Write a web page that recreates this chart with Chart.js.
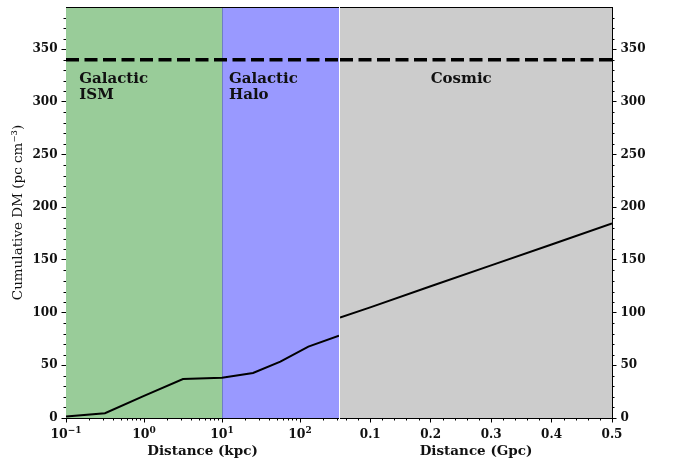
<!DOCTYPE html>
<html>
<head>
<meta charset="utf-8">
<script src="https://cdn.jsdelivr.net/npm/chart.js@4.4.1/dist/chart.umd.min.js"></script>
<style>
  html, body { margin: 0; padding: 0; background: #fff; }
  #wrap { position: relative; width: 673px; height: 462px; }
  .panel { position: absolute; top: 0; height: 462px; }
  #left { left: 0; width: 339px; }
  #right { left: 340px; width: 333px; }
</style>
</head>
<body>
<div id="wrap">
  <div class="panel" id="left"><canvas id="galChart" width="339" height="462"></canvas></div>
  <div class="panel" id="right"><canvas id="cosChart" width="333" height="462"></canvas></div>
</div>
<script>
// Galactic part (kpc, log axis)
const galDist = [0.1, 0.316, 1, 3.16, 10, 25, 56, 128, 316.2];
const galDM = [1.5, 4.5, 21, 37, 38.3, 42.7, 53.5, 67.7, 78];

// Cosmic part (Gpc, linear axis)
const cosDist = [0.05, 0.1, 0.2, 0.3, 0.4, 0.5];
const cosDM = [95.3, 105, 125, 144.8, 164.6, 184.7];

const dmLimit = 340;

const galTicks = [0.1, 1, 10, 100];
const galTickExp = ['\u22121', '0', '1', '2'];
const cosTicks = [0.1, 0.2, 0.3, 0.4, 0.5];
const cosTickLabels = ['0.1', '0.2', '0.3', '0.4', '0.5'];
const dmTicks = [0, 50, 100, 150, 200, 250, 300, 350];

const ismRange = [0.1, 10];
const haloRange = [10, 316.2];
const cosmicRange = [0.05, 0.5];

const FONT = 'DejaVu Serif';
const tickFont = { family: FONT, size: 12, weight: 'bold' };

function pairs(xs, ys) {
    return xs.map((x, i) => ({ x: x, y: ys[i] }));
}

// shaded regions, top spine, minor ticks, power-of-ten labels, region names
const decorPlugin = {
    id: 'decor',
    beforeDatasetsDraw(chart, args, opts) {
        const ctx = chart.ctx;
        const a = chart.chartArea;
        const xs = chart.scales.x;
        ctx.save();
        opts.spans.forEach(s => {
            const x0 = xs.getPixelForValue(s.range[0]);
            const x1 = xs.getPixelForValue(s.range[1]);
            ctx.fillStyle = s.color;
            ctx.fillRect(x0, a.top, x1 - x0, a.bottom - a.top);
            if (s.edge) {
                ctx.strokeStyle = s.edge;
                ctx.lineWidth = 1;
                ctx.beginPath();
                ctx.moveTo(Math.round(x0) + 0.5, a.top);
                ctx.lineTo(Math.round(x0) + 0.5, a.bottom);
                ctx.stroke();
            }
        });
        ctx.restore();
    },
    afterDraw(chart, args, opts) {
        const ctx = chart.ctx;
        const a = chart.chartArea;
        const xs = chart.scales.x;
        const ys = chart.scales.y;
        ctx.save();
        ctx.strokeStyle = '#000';
        ctx.lineWidth = 1;
        ctx.beginPath();
        ctx.moveTo(a.left, a.top + 0.5);
        ctx.lineTo(a.right, a.top + 0.5);
        ctx.stroke();

        // minor ticks
        ctx.beginPath();
        opts.xMinor.forEach(v => {
            if (v < xs.min || v > xs.max) return;
            const px = Math.round(xs.getPixelForValue(v)) + 0.5;
            ctx.moveTo(px, a.bottom);
            ctx.lineTo(px, a.bottom + 2.5);
        });
        for (let v = 10; v < 390; v += 10) {
            if (v % 50 === 0) continue;
            const py = Math.round(ys.getPixelForValue(v)) + 0.5;
            if (opts.ySide === 'left') {
                ctx.moveTo(a.left, py);
                ctx.lineTo(a.left - 2.5, py);
            } else {
                ctx.moveTo(a.right, py);
                ctx.lineTo(a.right + 2.5, py);
            }
        }
        ctx.stroke();

        // 10^n tick labels
        if (opts.powTicks) {
            ctx.fillStyle = '#111';
            ctx.textBaseline = 'alphabetic';
            ctx.textAlign = 'left';
            opts.powTicks.forEach((v, i) => {
                const px = xs.getPixelForValue(v);
                ctx.font = 'bold 12.5px "' + FONT + '"';
                const wb = ctx.measureText('10').width;
                ctx.font = 'bold 9px "' + FONT + '"';
                const we = ctx.measureText(opts.powExp[i]).width;
                const x0 = px - (wb + we) / 2;
                ctx.font = 'bold 12.5px "' + FONT + '"';
                ctx.fillText('10', x0, a.bottom + 20);
                ctx.font = 'bold 9px "' + FONT + '"';
                ctx.fillText(opts.powExp[i], x0 + wb, a.bottom + 14.5);
            });
        }

        // region labels
        ctx.fillStyle = '#111';
        ctx.font = 'bold 15px "' + FONT + '"';
        ctx.textAlign = 'left';
        ctx.textBaseline = 'alphabetic';
        opts.labels.forEach(l => {
            const px = xs.getPixelForValue(l.x);
            const py = ys.getPixelForValue(l.y);
            l.lines.forEach((t, i) => ctx.fillText(t, px, py + i * 16.5));
        });
        ctx.restore();
    }
};

// minor tick values
const galMinor = [];
[0.1, 1, 10, 100].forEach(d => { for (let k = 2; k <= 9; k++) galMinor.push(k * d); });
const cosMinor = [];
for (let i = 3; i <= 25; i++) { if (i % 5 !== 0) cosMinor.push(i * 0.02); }

function yScale(side) {
    return {
        type: 'linear',
        position: side,
        min: 0,
        max: 390,
        afterBuildTicks: s => { s.ticks = dmTicks.map(v => ({ value: v })); },
        afterFit: s => {
            s.width = side === 'left' ? 66 : 61;
            s.paddingTop = 0;
            s.paddingBottom = 0;
        },
        ticks: { color: '#111', font: tickFont, padding: 4 },
        grid: { drawOnChartArea: false, color: '#000', tickLength: 4.5 },
        border: { color: '#000', width: 1 },
        title: {
            display: side === 'left',
            text: 'Cumulative DM (pc cm\u207B\u00B3)',
            color: '#111',
            font: { family: FONT, size: 13.5 },
            padding: { top: 10, bottom: 0 }
        }
    };
}

function xScale(type, min, max, ticks, labels, title) {
    return {
        type: type,
        position: 'bottom',
        min: min,
        max: max,
        afterBuildTicks: s => { s.ticks = ticks.map(v => ({ value: v })); },
        afterFit: s => {
            s.height = 44;
            s.paddingLeft = 0;
            s.paddingRight = 0;
        },
        ticks: {
            color: '#111',
            font: tickFont,
            padding: 5,
            maxRotation: 0,
            autoSkip: false,
            callback: (v, i) => labels ? labels[i] : ''
        },
        grid: { drawOnChartArea: false, color: '#000', tickLength: 4.5 },
        border: { color: '#000', width: 1 },
        title: {
            display: true,
            text: title,
            color: '#111',
            font: { family: FONT, size: 13.5, weight: 'bold' },
            padding: { top: 0, bottom: 2 }
        }
    };
}

const lineStyle = { borderColor: '#000', borderWidth: 2, pointRadius: 0, showLine: true, tension: 0 };
const dashStyle = { borderColor: '#000', borderWidth: 3.5, borderDash: [13, 5.5], pointRadius: 0, showLine: true };

new Chart(document.getElementById('galChart'), {
    type: 'scatter',
    data: {
        datasets: [
            Object.assign({ data: pairs(galDist, galDM) }, lineStyle),
            Object.assign({ data: [{ x: galDist[0], y: dmLimit }, { x: haloRange[1], y: dmLimit }] }, dashStyle)
        ]
    },
    options: {
        responsive: false,
        animation: false,
        devicePixelRatio: 1,
        layout: { padding: { top: 7, right: 0, left: 0, bottom: 0 } },
        plugins: {
            legend: { display: false },
            tooltip: { enabled: false },
            decor: {
                spans: [
                    { range: ismRange, color: '#99cc99' },
                    { range: haloRange, color: '#9999ff', edge: '#6f7fc4' }
                ],
                xMinor: galMinor,
                ySide: 'left',
                powTicks: galTicks,
                powExp: galTickExp,
                labels: [
                    { x: 0.148, y: 318, lines: ['Galactic', 'ISM'] },
                    { x: 12.3, y: 318, lines: ['Galactic', 'Halo'] }
                ]
            }
        },
        scales: {
            x: xScale('logarithmic', 0.1, 316.2, galTicks, null, 'Distance (kpc)'),
            y: yScale('left')
        }
    },
    plugins: [decorPlugin]
});

new Chart(document.getElementById('cosChart'), {
    type: 'scatter',
    data: {
        datasets: [
            Object.assign({ data: pairs(cosDist, cosDM) }, lineStyle),
            Object.assign({ data: [{ x: cosmicRange[0], y: dmLimit }, { x: cosmicRange[1], y: dmLimit }] }, dashStyle)
        ]
    },
    options: {
        responsive: false,
        animation: false,
        devicePixelRatio: 1,
        layout: { padding: { top: 7, right: 0, left: 0, bottom: 0 } },
        plugins: {
            legend: { display: false },
            tooltip: { enabled: false },
            decor: {
                spans: [{ range: cosmicRange, color: '#cccccc' }],
                xMinor: cosMinor,
                ySide: 'right',
                labels: [{ x: 0.2, y: 318, lines: ['Cosmic'] }]
            }
        },
        scales: {
            x: xScale('linear', 0.05, 0.5, cosTicks, cosTickLabels, 'Distance (Gpc)'),
            y: yScale('right')
        }
    },
    plugins: [decorPlugin]
});
</script>
</body>
</html>
